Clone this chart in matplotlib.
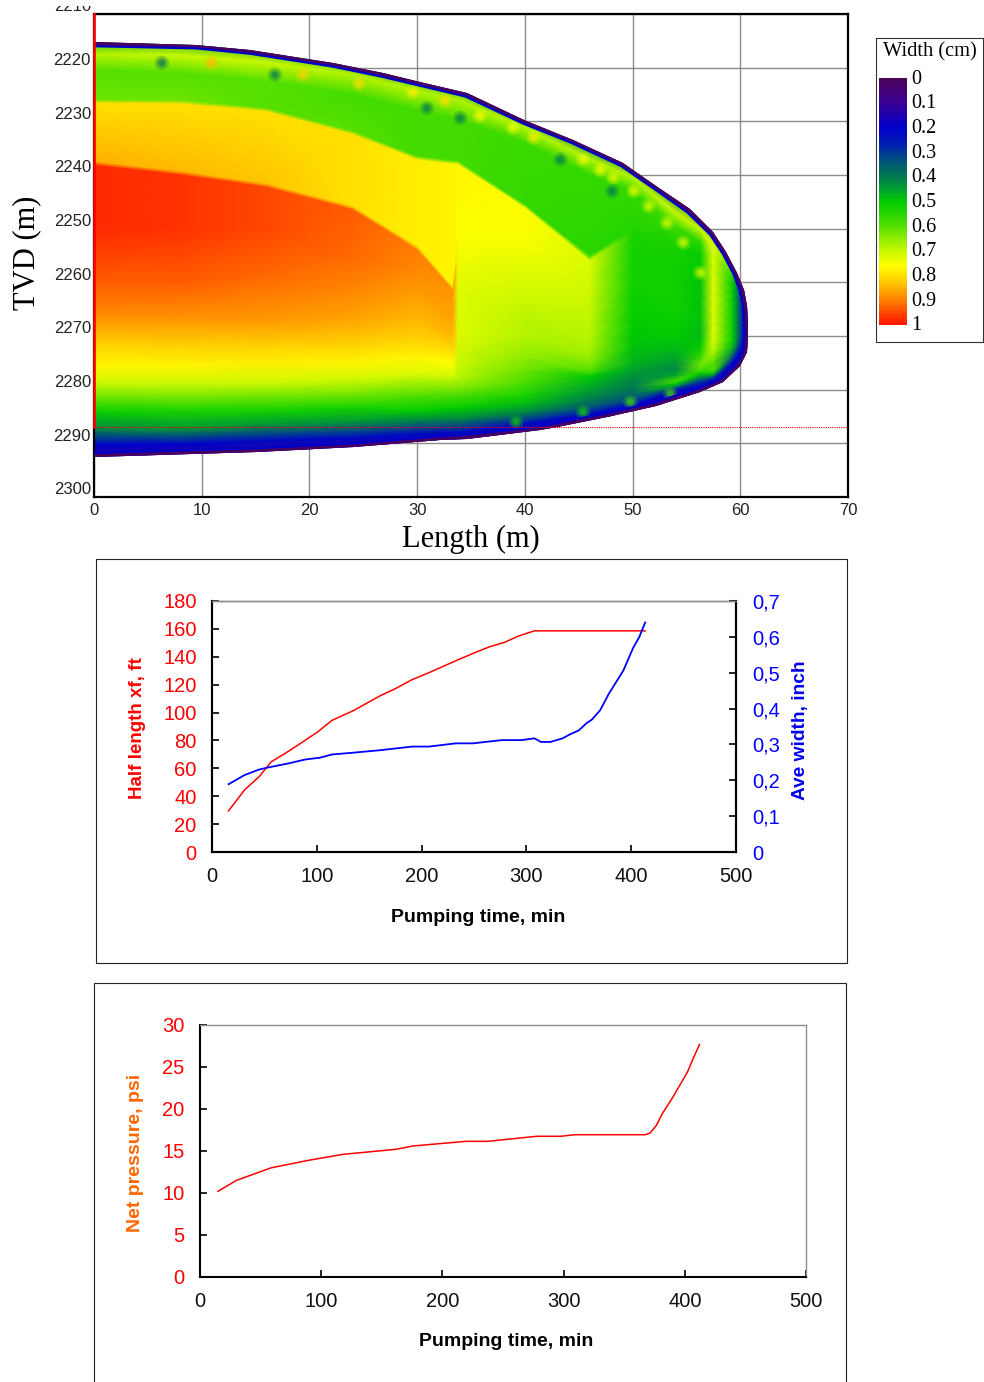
import numpy as np
import matplotlib
matplotlib.use("Agg")
import matplotlib.pyplot as plt
import matplotlib.transforms as mtransforms
from matplotlib.colors import LinearSegmentedColormap
from matplotlib.patches import Polygon, PathPatch, Rectangle
from matplotlib.path import Path

# ---- fracture width profile (TVD vs length), width in cm ----
# fracture outline, top edge from the wellbore to the tip, then bottom edge back
top_x = [0, 9.5, 14.5, 22.2, 26.8, 30.6, 34.6, 39.9, 44.5, 49.1, 52.2, 55.3, 57.5, 58.7, 59.7, 60.3, 60.6, 60.75]
top_z = [2215.3, 2215.7, 2216.7, 2219.1, 2221.0, 2222.8, 2224.7, 2229.7, 2233.4, 2237.7, 2242.0, 2246.4,
         2250.7, 2254.4, 2258.2, 2261.5, 2264.4, 2269.3]
bot_x = [60.6, 60.0, 58.4, 56.3, 52.2, 47.6, 43.0, 41.4, 34.6, 32.1, 24.1, 15.1, 0]
bot_z = [2273.0, 2275.5, 2278.6, 2280.4, 2283.0, 2285.1, 2286.9, 2287.6, 2289.1, 2289.4, 2290.7, 2291.6, 2292.5]

# each column: depths of the same contour features, top edge -> bottom edge
col_x = [0, 8, 16, 24, 30, 33.3, 33.8, 40, 46, 50, 54, 56.3, 57.5, 59.3, 60.4, 61.0]
tvd_grid = [
    [2215.3, 2217.5, 2220.5, 2226.0, 2226.6, 2237.5, 2238.2, 2250, 2260, 2266, 2271.5, 2275.5, 2278.6, 2282, 2284.2, 2287.3, 2290.3, 2292.5],
    [2215.6, 2217.7, 2221.0, 2226.1, 2226.8, 2239.3, 2240.0, 2250, 2260, 2266.5, 2271.8, 2275.5, 2278.6, 2281.7, 2284.0, 2287.3, 2290.2, 2292.0],
    [2217.0, 2219.0, 2222.5, 2227.5, 2228.2, 2241.6, 2242.3, 2250, 2259, 2267.5, 2271.8, 2275.0, 2278.6, 2281.0, 2284.0, 2286.5, 2289.5, 2291.5],
    [2219.5, 2221.3, 2225.0, 2231.8, 2232.5, 2245.8, 2246.5, 2255, 2262, 2267, 2272, 2275, 2278, 2280.5, 2283.5, 2286.0, 2289.0, 2290.8],
    [2222.6, 2224.3, 2228.0, 2236.5, 2237.2, 2253.2, 2254.0, 2258, 2262, 2267, 2271, 2274, 2277, 2281, 2284, 2286, 2288.3, 2289.8],
    [2224.2, 2225.8, 2229.5, 2237.3, 2238.0, 2260.8, 2261.5, 2264, 2267, 2270, 2273, 2275, 2277.5, 2281, 2283.5, 2285.8, 2288.0, 2289.3],
    [2224.4, 2226.0, 2229.7, 2237.4, 2238.1, 2250, 2256, 2262, 2266, 2270, 2273, 2275.5, 2278, 2281, 2283.5, 2285.8, 2288.0, 2289.2],
    [2229.7, 2231.2, 2234.0, 2245.5, 2246.2, 2252, 2257, 2262, 2266, 2270, 2274, 2276.5, 2279, 2281, 2282.8, 2284.5, 2286.4, 2287.6],
    [2235.5, 2237.0, 2240.0, 2255.0, 2256.0, 2260, 2264, 2268, 2271, 2274, 2276.5, 2277.5, 2279, 2280.5, 2282, 2283.3, 2284.6, 2285.6],
    [2239.0, 2240.5, 2243.0, 2250, 2251, 2256, 2260, 2264, 2268, 2272, 2275, 2276.5, 2278, 2279.5, 2280.8, 2282, 2283, 2283.9],
    [2245.2, 2247.0, 2249.5, 2253, 2256, 2260, 2264, 2267, 2270, 2272.5, 2274.5, 2276, 2277.3, 2278.3, 2279, 2279.8, 2280.5, 2281.3],
    [2248.4, 2250.2, 2252.5, 2255, 2258, 2261, 2264, 2267, 2270, 2272, 2274, 2275.2, 2276.2, 2277, 2277.8, 2278.6, 2279.4, 2280.2],
    [2251.0, 2253.0, 2255, 2258, 2260, 2262, 2264, 2266, 2268, 2270, 2272, 2273.5, 2275, 2276.3, 2277, 2277.8, 2278.5, 2279.2],
    [2255.6, 2257, 2258.5, 2260, 2261.5, 2263, 2264.5, 2266, 2267.5, 2269, 2270.5, 2272, 2273, 2273.8, 2274.5, 2275.2, 2275.8, 2276.5],
    [2262.6, 2263.2, 2263.9, 2264.5, 2265.2, 2265.8, 2266.5, 2267.1, 2267.8, 2268.4, 2269.1, 2269.7, 2270.4, 2271.0, 2271.7, 2272.3, 2273.0, 2273.6],
    [2265.5, 2265.9, 2266.3, 2266.7, 2267.1, 2267.5, 2267.9, 2268.3, 2268.7, 2269.1, 2269.5, 2269.9, 2270.3, 2270.7, 2271.1, 2271.5, 2271.9, 2272.3],
]
width_grid = [
    [0.45, 0.68, 0.60, 0.62, 0.80, 0.85, 0.98, 0.98, 0.93, 0.89, 0.82, 0.77, 0.71, 0.60, 0.51, 0.42, 0.20, 0.08],
    [0.45, 0.70, 0.60, 0.62, 0.80, 0.84, 0.97, 0.97, 0.93, 0.88, 0.82, 0.77, 0.71, 0.62, 0.53, 0.44, 0.20, 0.08],
    [0.45, 0.70, 0.60, 0.60, 0.80, 0.83, 0.95, 0.95, 0.92, 0.87, 0.82, 0.78, 0.71, 0.63, 0.52, 0.44, 0.22, 0.08],
    [0.45, 0.68, 0.58, 0.60, 0.80, 0.80, 0.93, 0.92, 0.89, 0.86, 0.81, 0.77, 0.71, 0.64, 0.52, 0.44, 0.22, 0.08],
    [0.45, 0.68, 0.58, 0.58, 0.78, 0.78, 0.90, 0.89, 0.87, 0.84, 0.81, 0.77, 0.72, 0.60, 0.50, 0.40, 0.22, 0.08],
    [0.45, 0.68, 0.58, 0.58, 0.77, 0.77, 0.88, 0.87, 0.86, 0.84, 0.80, 0.76, 0.71, 0.59, 0.50, 0.40, 0.22, 0.08],
    [0.45, 0.68, 0.58, 0.58, 0.77, 0.76, 0.74, 0.72, 0.72, 0.72, 0.71, 0.70, 0.68, 0.59, 0.50, 0.40, 0.22, 0.08],
    [0.40, 0.68, 0.57, 0.56, 0.76, 0.75, 0.73, 0.71, 0.69, 0.68, 0.65, 0.62, 0.58, 0.53, 0.48, 0.40, 0.22, 0.08],
    [0.40, 0.68, 0.56, 0.55, 0.72, 0.71, 0.70, 0.69, 0.68, 0.66, 0.60, 0.50, 0.47, 0.44, 0.40, 0.34, 0.22, 0.08],
    [0.40, 0.68, 0.56, 0.54, 0.53, 0.52, 0.52, 0.51, 0.50, 0.49, 0.47, 0.45, 0.42, 0.40, 0.37, 0.32, 0.20, 0.08],
    [0.40, 0.70, 0.58, 0.53, 0.52, 0.52, 0.52, 0.51, 0.50, 0.48, 0.45, 0.42, 0.45, 0.58, 0.50, 0.30, 0.18, 0.08],
    [0.40, 0.70, 0.55, 0.50, 0.50, 0.49, 0.49, 0.49, 0.48, 0.50, 0.56, 0.62, 0.60, 0.50, 0.40, 0.30, 0.20, 0.08],
    [0.40, 0.72, 0.72, 0.72, 0.73, 0.73, 0.73, 0.72, 0.72, 0.72, 0.70, 0.66, 0.60, 0.60, 0.50, 0.30, 0.18, 0.08],
    [0.30, 0.60, 0.55, 0.50, 0.50, 0.50, 0.50, 0.50, 0.50, 0.50, 0.50, 0.48, 0.42, 0.35, 0.28, 0.20, 0.15, 0.08],
    [0.10, 0.20, 0.20, 0.20, 0.20, 0.20, 0.20, 0.20, 0.20, 0.20, 0.20, 0.20, 0.20, 0.20, 0.20, 0.20, 0.20, 0.10],
    [0.05, 0.05, 0.05, 0.05, 0.05, 0.05, 0.05, 0.05, 0.05, 0.05, 0.05, 0.05, 0.05, 0.05, 0.05, 0.05, 0.05, 0.05],
]
# isolated cells near the fracture rim
spot_x = [10.9, 19.4, 24.6, 29.6, 32.6, 35.8, 38.9, 40.8, 45.4, 47.0, 48.2, 50.1, 51.5, 53.2, 54.7, 56.3,
          6.3, 16.8, 30.9, 34.0, 43.3, 48.1, 39.2, 45.4, 49.8, 53.5]
spot_z = [2219.1, 2221.3, 2223.0, 2224.6, 2226.2, 2229.0, 2231.2, 2233.0, 2237.1, 2239.0, 2240.5, 2243.0,
          2245.8, 2248.9, 2252.6, 2258.2, 2219.1, 2221.3, 2227.5, 2229.4, 2237.1, 2243.0, 2286.0, 2284.2,
          2282.3, 2280.7]
spot_w = [0.84, 0.82, 0.8, 0.78, 0.8, 0.76, 0.74, 0.78, 0.74, 0.74, 0.72, 0.74, 0.72, 0.72, 0.72, 0.72,
          0.38, 0.4, 0.4, 0.4, 0.4, 0.4, 0.52, 0.52, 0.58, 0.58]

length_ticks = [0, 10, 20, 30, 40, 50, 60, 70]
tvd_ticks = [2210, 2220, 2230, 2240, 2250, 2260, 2270, 2280, 2290, 2300]
perf_top, perf_bottom = 2210, 2287
cbar_ticks = [0, 0.1, 0.2, 0.3, 0.4, 0.5, 0.6, 0.7, 0.8, 0.9, 1]

# ---- half length / average width vs pumping time ----
time_len = [15.8, 31, 45, 56.5, 70.4, 86.7, 100.6, 114.5, 135.3, 160.8, 174.7, 190.9, 207, 234.9,
            253.5, 265, 279, 292.9, 307.7, 413.3]
half_len = [29.5, 44.5, 54, 64.7, 71, 79, 86, 94.4, 101.5, 112.2, 117, 123.6, 128.6, 137.9,
            143.8, 147.2, 150.3, 155, 158.6, 158.6]
time_w = [15.8, 31, 45, 54, 72.8, 89, 103, 114.5, 133, 160.8, 190.9, 207, 232.6, 248.8, 276.6, 295,
          307.7, 313.7, 323, 334.6, 341.5, 349.9, 357.7, 362.4, 370.3, 378.6, 392.5, 401.8, 407.8, 413.3]
ave_w = [0.189, 0.2145, 0.230, 0.236, 0.247, 0.258, 0.263, 0.272, 0.2765, 0.284, 0.294, 0.294, 0.303,
         0.303, 0.312, 0.312, 0.317, 0.307, 0.307, 0.317, 0.328, 0.339, 0.360, 0.369, 0.395, 0.441,
         0.506, 0.569, 0.600, 0.640]

# ---- net pressure vs pumping time ----
time_p = [14.8, 30, 58.7, 89.9, 117.8, 161.7, 175.7, 219.6, 237.6, 277.6, 297.6, 309.5, 367.4,
          371.4, 376.6, 381.4, 389.4, 402.2, 407.2, 412.1]
net_p = [10.2, 11.5, 13.0, 13.9, 14.6, 15.2, 15.6, 16.15, 16.15, 16.75, 16.75, 16.94, 16.94,
         17.14, 18.06, 19.44, 21.23, 24.4, 26.1, 27.66]

time_ticks = [0, 100, 200, 300, 400, 500]

plt.rcParams["font.family"] = ["Liberation Sans", "DejaVu Sans"]
SERIF = ["Liberation Serif", "DejaVu Serif"]

W_PX, H_PX = 984, 1382
fig = plt.figure(figsize=(W_PX / 100, H_PX / 100), dpi=100)


def px_axes(l, t, r, b):
    return fig.add_axes([l / W_PX, 1 - b / H_PX, (r - l) / W_PX, (b - t) / H_PX])


def fig_text(x, y, s, **kw):
    return fig.text(x / W_PX, 1 - y / H_PX, s, **kw)


cmap = LinearSegmentedColormap.from_list("width", [
    (0.0, "#4d005a"), (0.1, "#3a0096"), (0.2, "#0000cc"), (0.27, "#0020b0"),
    (0.33, "#005080"), (0.4, "#007a50"), (0.46, "#00a828"), (0.5, "#00cc00"),
    (0.6, "#55e000"), (0.7, "#c8f800"), (0.76, "#ffff00"), (0.82, "#ffd000"),
    (0.9, "#ff8000"), (1.0, "#ff1500")])

# ================= top: width profile =================
ax = px_axes(94, 14, 848, 497)
ax.set_xlim(0, 70)
ax.set_ylim(2300, 2210)
ax.set_xticks(length_ticks)
ax.set_yticks(tvd_ticks)
ax.set_yticklabels([])
ax.grid(True, color="#8c8c8c", lw=1.0)
ax.set_axisbelow(True)
ax.tick_params(length=0, labelsize=12, labelcolor="#222222")
ax.tick_params(axis="x", pad=4)
for sp in ax.spines.values():
    sp.set_linewidth(1.6)

label_shift = ax.get_yaxis_transform() + mtransforms.ScaledTranslation(-0.03, 0.07, fig.dpi_scale_trans)
for v in tvd_ticks:
    t = ax.text(0, v, str(v), transform=label_shift, ha="right", va="center",
                fontsize=12, color="#222222", clip_on=True)
    t.set_clip_box(mtransforms.Bbox.from_extents(0, 0, W_PX, H_PX - 6))

outline = list(zip(top_x, top_z)) + list(zip(bot_x, bot_z))
clip = Polygon(outline, closed=True, transform=ax.transData)

cx = np.array(col_x, dtype=float)
Z = np.array(tvd_grid, dtype=float).T
Wd = np.array(width_grid, dtype=float).T
# stretch the first/last rows a little past the edge so the clip outline is fully covered
Z[0] -= 1.5
Z[-1] += 1.5
X = np.broadcast_to(cx, Z.shape)
mesh = ax.pcolormesh(X, Z, Wd, shading="gouraud", cmap=cmap, vmin=0, vmax=1, zorder=2)
mesh.set_clip_path(clip)

# soft blobs: wide faint halo plus a smaller core
for s, a in [(110, 0.25), (50, 0.35), (18, 0.45)]:
    sc = ax.scatter(spot_x, spot_z, c=spot_w, cmap=cmap, vmin=0, vmax=1, s=s, alpha=a,
                    edgecolors="none", zorder=2.5)
    sc.set_clip_path(clip)

# dark rim along top, tip and bottom (not along the wellbore side)
rim_path = Path(outline)
for col, lw in [("#0000c8", 7.0), ("#4d005a", 3.6)]:
    rim = PathPatch(rim_path, fill=False, edgecolor=col, lw=lw, zorder=3, joinstyle="round")
    ax.add_patch(rim)
    rim.set_clip_path(clip)

ax.plot([0, 0], [perf_top, perf_bottom], color="#ff0000", lw=1.9, zorder=6, clip_on=False)
ax.axhline(perf_bottom, color="#ff0000", lw=0.8, ls=(0, (1, 1)), zorder=5)

fig_text(27, 253, "TVD (m)", rotation=90, ha="center", va="center", fontsize=22, family=SERIF)
fig_text(471, 539, "Length (m)", ha="center", va="center", fontsize=22, family=SERIF)

# colour legend
lg = px_axes(876, 38, 983, 342)
lg.set_xticks([])
lg.set_yticks([])
for sp in lg.spines.values():
    sp.set_linewidth(0.8)
    sp.set_color("#333333")
fig_text(929.5, 52, "Width (cm)", ha="center", va="center", fontsize=14.8, family=SERIF)
cb = px_axes(879, 78, 907, 325)
cb.imshow(np.linspace(0, 1, 256)[:, None], aspect="auto", cmap=cmap, extent=[0, 1, 1, 0])
cb.axis("off")
for v in cbar_ticks:
    fig_text(911, 79 + v * 247, f"{v:g}", ha="left", va="center", fontsize=14.5, family=SERIF)

# ================= middle: half length and average width =================
fig.add_artist(Rectangle((96 / W_PX, 1 - 963 / H_PX), 751 / W_PX, 404 / H_PX,
                         transform=fig.transFigure, fill=False, lw=0.8, edgecolor="#222222"))
ax2 = px_axes(212, 601, 736, 852)
ax2.plot(time_len, half_len, color="#ff0000", lw=1.1)
ax2.set_xlim(0, 500)
ax2.set_ylim(0, 180)
ax2.set_xticks(time_ticks)
ax2.set_yticks(range(0, 181, 20))
ax2.tick_params(direction="in", length=5, width=1.2, labelsize=14.5, pad=11)
ax2.tick_params(axis="y", labelcolor="#ff0000")
ax2.tick_params(axis="x", labelcolor="#111111")

ax2b = ax2.twinx()
ax2b.plot(time_w, ave_w, color="#0000ff", lw=1.3)
ax2b.set_ylim(0, 0.7)
wticks = [0, 0.1, 0.2, 0.3, 0.4, 0.5, 0.6, 0.7]
ax2b.set_yticks(wticks)
ax2b.set_yticklabels(["0"] + [f"{v:.1f}".replace(".", ",") for v in wticks[1:]])
ax2b.tick_params(direction="in", length=5, width=1.2, labelsize=14.5, pad=12, labelcolor="#0000ff")
for a in (ax2, ax2b):
    for side in ("left", "bottom", "right"):
        a.spines[side].set_linewidth(1.5)
        a.spines[side].set_color("#000000")
    a.spines["top"].set_color("#8c8c8c")
    a.spines["top"].set_linewidth(1.0)

fig_text(137, 728, "Half length xf, ft", rotation=90, ha="center", va="center",
         fontsize=13.5, fontweight="bold", color="#ff0000")
fig_text(801, 730, "Ave width, inch", rotation=90, ha="center", va="center",
         fontsize=13.8, fontweight="bold", color="#0000ee")
fig_text(478, 917, "Pumping time, min", ha="center", va="center", fontsize=14,
         fontweight="bold", family=["Liberation Sans Narrow", "Liberation Sans"])

# ================= bottom: net pressure =================
fig.add_artist(Rectangle((94 / W_PX, -10 / H_PX), 752 / W_PX, (H_PX - 983 + 10) / H_PX,
                         transform=fig.transFigure, fill=False, lw=0.8, edgecolor="#222222"))
ax3 = px_axes(200, 1025, 806, 1277)
ax3.plot(time_p, net_p, color="#ff0000", lw=1.1)
ax3.set_xlim(0, 500)
ax3.set_ylim(0, 30)
ax3.set_xticks(time_ticks)
ax3.set_yticks(range(0, 31, 5))
ax3.tick_params(direction="in", length=5, width=1.2, labelsize=14.5, pad=11)
ax3.tick_params(axis="y", labelcolor="#ff0000")
ax3.tick_params(axis="x", labelcolor="#111111")
for side in ("left", "bottom"):
    ax3.spines[side].set_linewidth(1.5)
for side in ("top", "right"):
    ax3.spines[side].set_color("#8c8c8c")
    ax3.spines[side].set_linewidth(1.0)

fig_text(135, 1153, "Net pressure, psi", rotation=90, ha="center", va="center",
         fontsize=14, fontweight="bold", color="#ff6600")
fig_text(506, 1342, "Pumping time, min", ha="center", va="center", fontsize=14,
         fontweight="bold", family=["Liberation Sans Narrow", "Liberation Sans"])

fig.savefig("out.png", dpi=100)
